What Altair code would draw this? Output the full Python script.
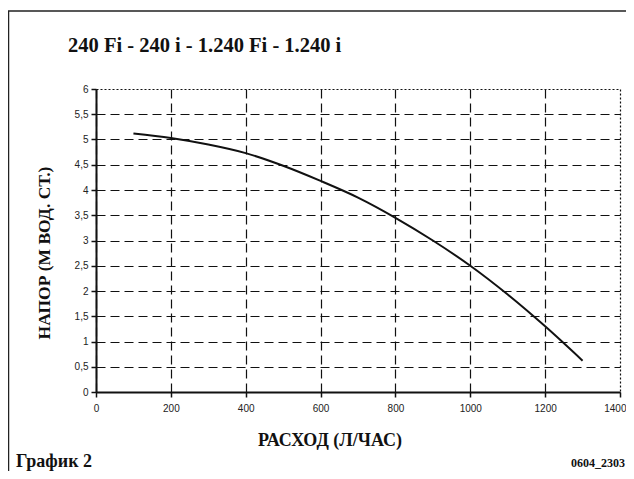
import altair as alt
import pandas as pd

flow = [100, 200, 300, 400, 500, 600, 700, 800, 900, 1000, 1100, 1200, 1300]
head = [5.12, 5.03, 4.9, 4.73, 4.48, 4.18, 3.85, 3.45, 3.0, 2.5, 1.93, 1.3, 0.62]

x_ticks = [0, 200, 400, 600, 800, 1000, 1200, 1400]
y_ticks = [0, 0.5, 1, 1.5, 2, 2.5, 3, 3.5, 4, 4.5, 5, 5.5, 6]

title_text = "240 Fi - 240 i - 1.240 Fi - 1.240 i"
x_title = "РАСХОД (Л/ЧАС)"
y_title = "НАПОР (М ВОД. СТ.)"
footer_left = "График 2"
footer_right = "0604_2303"

SERIF = "Liberation Serif, Times New Roman, DejaVu Serif, serif"
SANS = "Liberation Sans, Arial, sans-serif"

df = pd.DataFrame({"flow": flow, "head": head})

xs = alt.Scale(domain=[0, 1400], nice=False, zero=False)
ys = alt.Scale(domain=[0, 6], nice=False)

x_grid_dash = {"condition": {"test": "datum.value === 1400", "value": [2, 2]}, "value": [9, 5]}
y_grid_dash = {"condition": {"test": "datum.value === 6", "value": [2, 2]}, "value": [9, 5]}
x_label_align = {"condition": {"test": "datum.value === 1400", "value": "right"}, "value": "center"}
x_label_offset = {"condition": {"test": "datum.value === 1400", "value": 6}, "value": 0}

xaxis = alt.Axis(values=x_ticks, title=None, grid=True, gridDash=x_grid_dash, gridColor="#111",
                 gridWidth=1.2, domainColor="#111", domainWidth=2, tickColor="#111",
                 tickSize=5, tickWidth=1.5, labelFont=SANS, labelFontSize=10,
                 labelColor="#222", labelPadding=6, format="d", labelFlush=False,
                 labelAlign=x_label_align, labelOffset=x_label_offset)
yaxis = alt.Axis(values=y_ticks, title=None, grid=True, gridDash=y_grid_dash, gridColor="#111",
                 gridWidth=1.2, domainColor="#111", domainWidth=2, tickColor="#111",
                 tickSize=5, tickWidth=1.5, labelFont=SANS, labelFontSize=10,
                 labelColor="#222", labelPadding=3, labelFlush=False,
                 labelExpr="replace(format(datum.value, '.1~f'), '.', ',')")

line = alt.Chart(df).mark_line(color="#111", strokeWidth=2, interpolate="monotone").encode(
    x=alt.X("flow:Q", scale=xs, axis=xaxis),
    y=alt.Y("head:Q", scale=ys, axis=yaxis),
)

def txt(s, x, y, size, angle=0, align="left", baseline="alphabetic", font=SERIF, bold=True):
    return alt.Chart(pd.DataFrame({"t": [s]})).mark_text(
        font=font, fontSize=size, fontWeight="bold" if bold else "normal",
        align=align, baseline=baseline, angle=angle, color="#111"
    ).encode(text="t:N", x=alt.value(x), y=alt.value(y))

# plot origin in page: (96, 89)
frame = alt.Chart(pd.DataFrame({"a": [0]})).mark_rect(
    fill=None, stroke="#222", strokeWidth=1.5
).encode(x=alt.value(-87.5), x2=alt.value(700), y=alt.value(-78), y2=alt.value(500))

chart = alt.layer(
    frame,
    line,
    txt(title_text, -28, -37, 20.5),
    txt(x_title, 234, 357, 18, align="center"),
    txt(y_title, -51, 164, 17.5, angle=270, align="center", baseline="middle"),
    txt(footer_left, -80, 378, 18),
    txt(footer_right, 529, 378, 12, align="right"),
).properties(
    width=524, height=303,
    padding={"left": 88, "top": 81, "right": 6, "bottom": 79},
    autosize=alt.AutoSizeParams(type="none"),
).configure_view(stroke=None)

chart.save("out.html", embed_options={"renderer": "svg", "actions": False})
